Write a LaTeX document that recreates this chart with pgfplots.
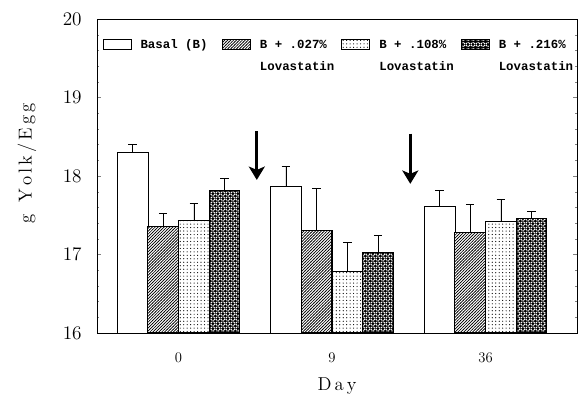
\documentclass[border=0pt]{standalone}
\usepackage{fontspec}
\setmonofont{Liberation Mono}
\usepackage{pgfplots}
\pgfplotsset{compat=1.18}
\usetikzlibrary{patterns,arrows.meta}

\pgfdeclarepatternformonly{hatchd}{\pgfqpoint{-0.5pt}{-0.5pt}}{\pgfqpoint{2.7pt}{2.7pt}}{\pgfqpoint{2.2pt}{2.2pt}}{%
  \pgfsetlinewidth{0.5pt}%
  \pgfpathmoveto{\pgfqpoint{-0.2pt}{-0.2pt}}\pgfpathlineto{\pgfqpoint{2.4pt}{2.4pt}}%
  \pgfusepath{stroke}}
\pgfdeclarepatternformonly{sdots}{\pgfqpoint{-1pt}{-1pt}}{\pgfqpoint{1pt}{1pt}}{\pgfqpoint{2.6pt}{2.6pt}}{%
  \pgfpathcircle{\pgfqpoint{0pt}{0pt}}{0.45pt}\pgfusepath{fill}}
\pgfdeclarepatternformonly{weave}{\pgfqpoint{0pt}{0pt}}{\pgfqpoint{4pt}{4pt}}{\pgfqpoint{4pt}{4pt}}{%
  \pgfsetlinewidth{0.7pt}%
  \pgfpathmoveto{\pgfqpoint{0.4pt}{0.4pt}}\pgfpathlineto{\pgfqpoint{1.6pt}{1.6pt}}%
  \pgfpathmoveto{\pgfqpoint{2.4pt}{1.6pt}}\pgfpathlineto{\pgfqpoint{3.6pt}{0.4pt}}%
  \pgfpathmoveto{\pgfqpoint{0.4pt}{3.6pt}}\pgfpathlineto{\pgfqpoint{1.6pt}{2.4pt}}%
  \pgfpathmoveto{\pgfqpoint{2.4pt}{2.4pt}}\pgfpathlineto{\pgfqpoint{3.6pt}{3.6pt}}%
  \pgfusepath{stroke}}

\pgfplotstableread{
x  basal ebasal  l027 el027  l108 el108  l216 el216
0  18.30 0.10    17.36 0.16  17.43 0.22  17.82 0.15
1  17.87 0.25    17.30 0.54  16.78 0.37  17.03 0.21
2  17.62 0.20    17.28 0.36  17.42 0.28  17.46 0.09
}\datatable

\begin{document}
\begin{tikzpicture}
\begin{axis}[
  name=ax,
  scale only axis,
  width=360pt, height=235.5pt,
  xmin=-0.531, xmax=2.596,
  ymin=16, ymax=20,
  ybar, bar width=0.2,
  xtick={0,1,2}, xticklabels={0,9,36},
  ytick={16,17,18,19,20},
  minor y tick num=4,
  tick align=inside,
  major tick length=3pt, minor tick length=1.8pt,
  x tick style={draw=none},
  axis line style={line width=0.6pt},
  y tick label style={font=\fontsize{15}{17}\selectfont, xshift=-8pt},
  x tick label style={font=\fontsize{11}{13}\selectfont, yshift=-11pt},
  xlabel={D\,a\,y},
  ylabel={g\ \ Y\,o\,l\,k\,/\,E\,g\,g},
  xlabel style={font=\fontsize{14}{16}\selectfont, at={(axis description cs:0.5,-0.169)}, anchor=center},
  ylabel style={font=\fontsize{14}{16}\selectfont, at={(axis description cs:-0.146,0.54)}, anchor=center},
  legend style={at={(0.012,0.94)}, anchor=north west, draw=none, fill=none,
    inner sep=0pt, legend columns=4,
    font=\fontsize{9.3}{16.5}\selectfont\ttfamily\bfseries,
    /tikz/every odd column/.append style={column sep=0pt},
    /tikz/every even column/.append style={column sep=0pt},
    nodes={inner xsep=0pt, inner ysep=1pt, anchor=base west}},
  legend image code/.code={\draw[#1] (0pt,-1pt) rectangle (21pt,6.5pt);},
  error bars/y dir=plus, error bars/y explicit,
  error bars/error mark=|,
  error bars/error bar style={line width=0.5pt, black, solid},
  error bars/error mark options={black, line width=0.8pt, mark size=3.2pt},
]
\addplot+[bar shift=-0.3, draw=black, line width=0.4pt, fill=white]
  table[x=x, y=basal, y error=ebasal]{\datatable};
\addlegendentry{\hspace{6.75pt}\parbox[t]{61pt}{Basal (B)}}
\addplot+[bar shift=-0.1, draw=black, line width=0.8pt, fill=white, postaction={pattern=hatchd, pattern color=black}]
  table[x=x, y=l027, y error=el027]{\datatable};
\addlegendentry{\hspace{6.75pt}\parbox[t]{61pt}{B + .027\%\\Lovastatin}}
\addplot+[bar shift=0.1, draw=black, line width=0.8pt, fill=white, postaction={pattern=sdots, pattern color=black}]
  table[x=x, y=l108, y error=el108]{\datatable};
\addlegendentry{\hspace{6.75pt}\parbox[t]{61pt}{B + .108\%\\Lovastatin}}
\addplot+[bar shift=0.3, draw=black, line width=0.8pt, fill=black, postaction={pattern=weave, pattern color=white}]
  table[x=x, y=l216, y error=el216]{\datatable};
\addlegendentry{\hspace{6.75pt}\parbox[t]{61pt}{B + .216\%\\Lovastatin}}
\draw[line width=2.2pt, -{Stealth[length=10pt, width=12pt, inset=2.5pt]}] (axis cs:0.51,18.57) -- (axis cs:0.51,17.95);
\draw[line width=2.2pt, -{Stealth[length=10pt, width=12pt, inset=2.5pt]}] (axis cs:1.51,18.54) -- (axis cs:1.51,17.90);
\end{axis}
\pgfresetboundingbox
\path ([shift={(-72.75pt,-45.75pt)}]ax.south west) rectangle ([shift={(2.25pt,14.25pt)}]ax.north east);
\end{tikzpicture}
\end{document}
